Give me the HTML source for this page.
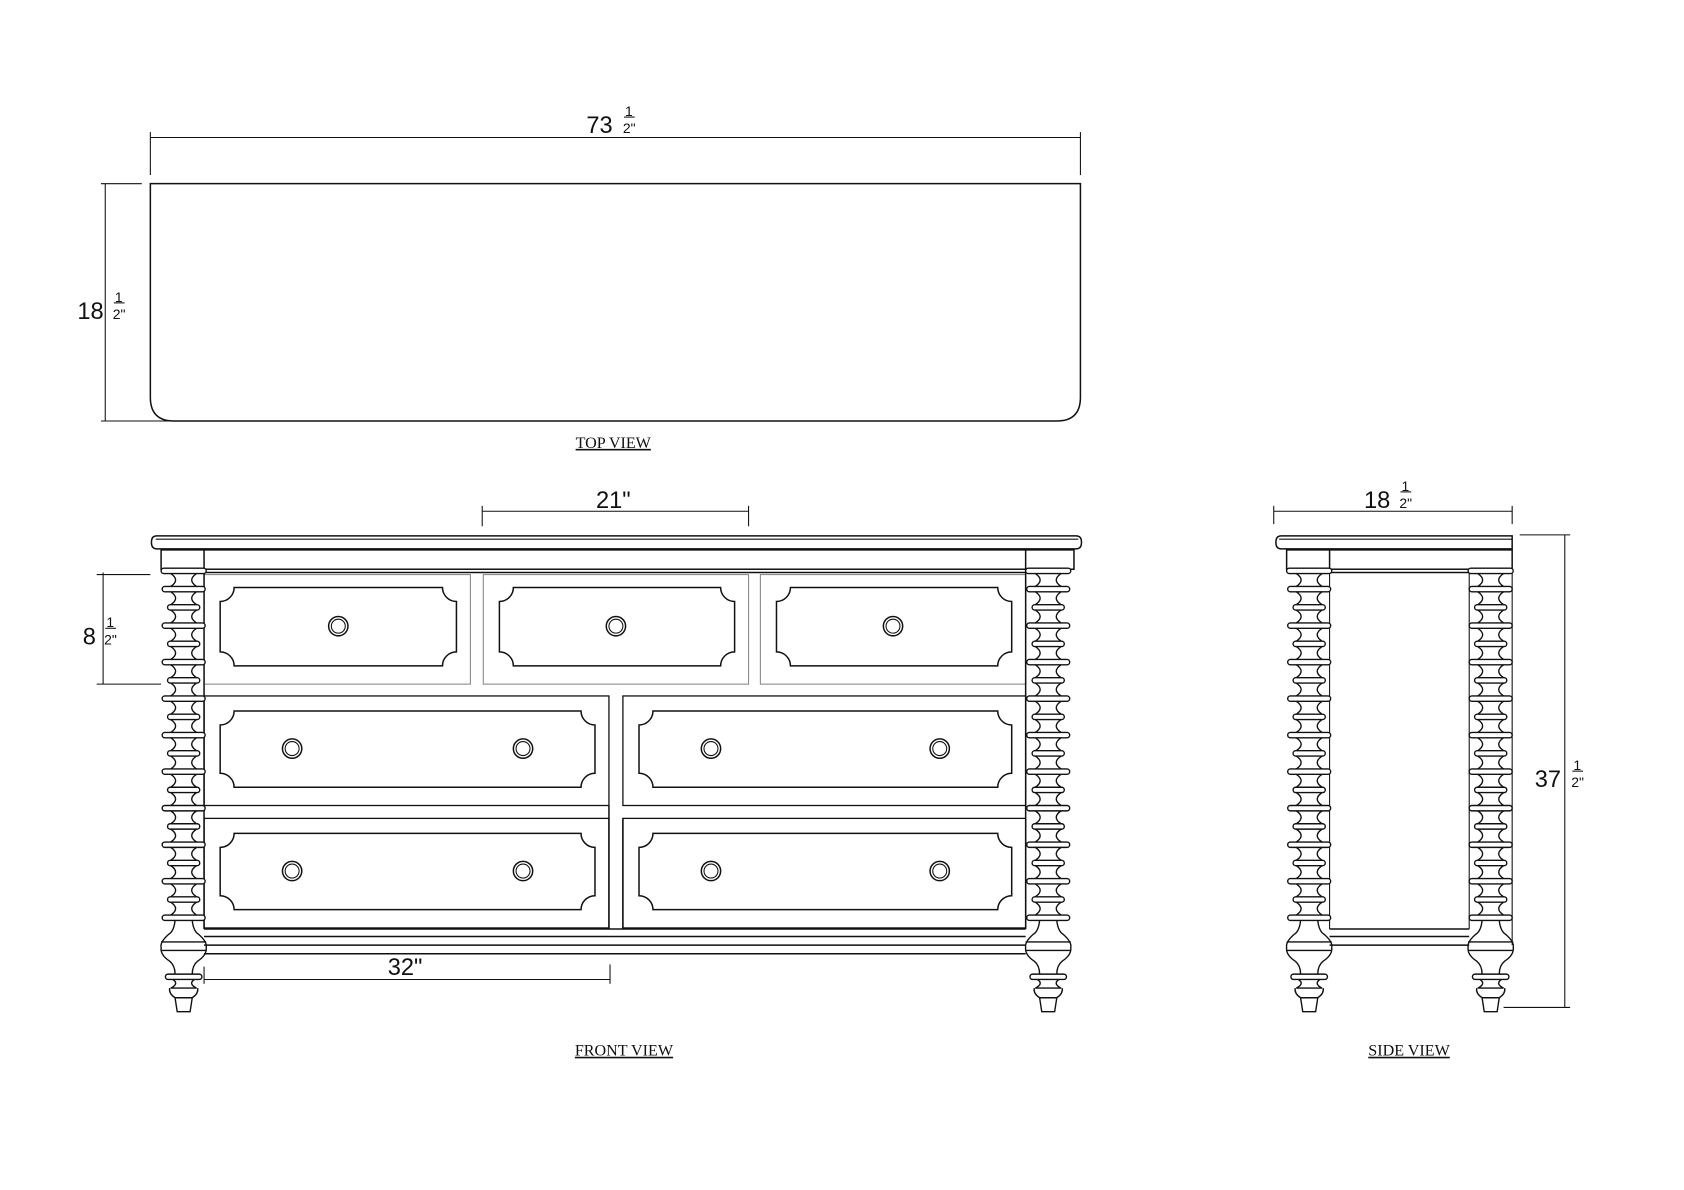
<!DOCTYPE html>
<html><head><meta charset="utf-8"><style>
html,body{margin:0;padding:0;background:#fff;}
svg{display:block;}
text{font-family:"Liberation Sans",sans-serif;fill:#111;}
.lab{font-family:"Liberation Serif",serif;font-size:15px;text-decoration:underline;}
</style></head><body>
<svg id="s" width="1684" height="1190" viewBox="0 0 1568 1108" xmlns="http://www.w3.org/2000/svg" fill="none" stroke="#111" stroke-width="1.4">
<!-- TOP VIEW -->
<path d="M140 171 H1006 V370 Q1006 392 984 392 H162 Q140 392 140 370 Z"/>
<line x1="140" y1="128" x2="1006" y2="128" stroke-width="1"/>
<line x1="140" y1="123" x2="140" y2="163" stroke-width="1"/>
<line x1="1006" y1="123" x2="1006" y2="163" stroke-width="1"/>
<line x1="98" y1="171" x2="98" y2="392" stroke-width="1"/>
<line x1="94" y1="171" x2="132" y2="171" stroke-width="1"/>
<line x1="94" y1="392" x2="160" y2="392" stroke-width="1"/>
<g stroke="none">
<text x="546" y="124" font-size="22">73</text><text x="582" y="108" font-size="13">1</text><text x="580" y="124" font-size="13">2"</text>
<text x="72" y="297" font-size="22">18</text><text x="107" y="281" font-size="13">1</text><text x="105" y="297" font-size="13">2"</text>
<text class="lab" x="571" y="417" text-anchor="middle">TOP VIEW</text>
<text class="lab" x="581" y="983" text-anchor="middle">FRONT VIEW</text>
<text class="lab" x="1312" y="983" text-anchor="middle">SIDE VIEW</text>
<text x="555" y="473" font-size="22">21"</text>
<text x="1270" y="473" font-size="22">18</text><text x="1305" y="457" font-size="13">1</text><text x="1303" y="473" font-size="13">2"</text>
<text x="77" y="600" font-size="22">8</text><text x="99" y="584" font-size="13">1</text><text x="97" y="600" font-size="13">2"</text>
<text x="361" y="908" font-size="22">32"</text>
<text x="1429" y="733" font-size="22">37</text><text x="1465" y="717" font-size="13">1</text><text x="1463" y="733" font-size="13">2"</text>
</g>
<g stroke-width="1">
<line x1="106" y1="282" x2="116" y2="282"/><line x1="581" y1="109" x2="591" y2="109"/>
<line x1="1304" y1="458" x2="1314" y2="458"/><line x1="98" y1="585" x2="108" y2="585"/><line x1="1464" y1="718" x2="1474" y2="718"/>
<line x1="449" y1="476" x2="697" y2="476"/><line x1="449" y1="471" x2="449" y2="490"/><line x1="697" y1="471" x2="697" y2="490"/>
<line x1="96" y1="533" x2="96" y2="637"/><line x1="90" y1="535" x2="140" y2="535"/><line x1="90" y1="637" x2="150" y2="637"/>
<line x1="190" y1="912" x2="568" y2="912"/><line x1="190" y1="900" x2="190" y2="916"/><line x1="568" y1="898" x2="568" y2="916"/>
<line x1="1186" y1="476" x2="1408" y2="476"/><line x1="1186" y1="471" x2="1186" y2="488"/><line x1="1408" y1="471" x2="1408" y2="488"/>
<line x1="1457" y1="498" x2="1457" y2="938"/><line x1="1415" y1="498" x2="1462" y2="498"/><line x1="1400" y1="938" x2="1462" y2="938"/>
</g>
<!-- FRONT -->
<path d="M146 499 H1002 Q1007 499 1007 505 Q1007 511 1002 511 H146 Q141 511 141 505 Q141 499 146 499 Z"/>
<line x1="145" y1="502" x2="1004" y2="502" stroke-width="1"/>
<rect x="150" y="512" width="850" height="18"/>
<line x1="190" y1="512" x2="190" y2="530"/><line x1="955" y1="512" x2="955" y2="530"/>
<line x1="190" y1="533" x2="955" y2="533"/>
<g id="drw" stroke-width="1.4"></g>
<line x1="190" y1="530" x2="190" y2="865"/><line x1="955" y1="530" x2="955" y2="865"/>
<line x1="190" y1="865" x2="955" y2="865"/><line x1="190" y1="872" x2="955" y2="872"/><line x1="190" y1="880" x2="955" y2="880"/><line x1="190" y1="888" x2="955" y2="888"/>
<!-- SIDE -->
<path d="M1193 499 H1408 V511 H1193 Q1188 511 1188 505 Q1188 499 1193 499 Z"/>
<line x1="1191" y1="502" x2="1408" y2="502" stroke-width="1"/>
<rect x="1198" y="512" width="210" height="18"/>
<line x1="1238" y1="512" x2="1238" y2="530"/>
<line x1="1238" y1="533" x2="1408" y2="533"/>
<line x1="1238" y1="530" x2="1238" y2="865" stroke-width="1"/><line x1="1368" y1="530" x2="1368" y2="865" stroke-width="1"/>
<line x1="1238" y1="865" x2="1368" y2="865"/><line x1="1238" y1="872" x2="1368" y2="872"/><line x1="1238" y1="880" x2="1368" y2="880"/>
<line x1="1408" y1="530" x2="1408" y2="880" stroke-width="1"/>
<g id="posts" stroke-width="1.3"></g>
</svg>
<script>
var ns="http://www.w3.org/2000/svg";
function add(g,tag,a){var e=document.createElementNS(ns,tag);for(var k in a)e.setAttribute(k,a[k]);g.appendChild(e);return e;}
var D=document.getElementById('drw'),P=document.getElementById('posts');
function panel(x,y,w,h){var r=13;add(D,'path',{d:'M'+(x+r)+' '+y+' H'+(x+w-r)+' A'+r+' '+r+' 0 0 0 '+(x+w)+' '+(y+r)+' V'+(y+h-r)+' A'+r+' '+r+' 0 0 0 '+(x+w-r)+' '+(y+h)+' H'+(x+r)+' A'+r+' '+r+' 0 0 0 '+x+' '+(y+h-r)+' V'+(y+r)+' A'+r+' '+r+' 0 0 0 '+(x+r)+' '+y+' Z'});}
function knob(x,y){add(D,'circle',{cx:x,cy:y,r:9});add(D,'circle',{cx:x,cy:y,r:6.5,'stroke-width':1});}
[[190,438],[450,697],[708,955]].forEach(function(d){add(D,'rect',{x:d[0],y:535,width:d[1]-d[0],height:102,stroke:'#888','stroke-width':1});panel(d[0]+15,547,d[1]-d[0]-28,73);knob((d[0]+d[1])/2-((d[0]==190)?-1:0),583);});
[[648,662,697],[762,776,811]].forEach(function(r){[[190,567],[580,955]].forEach(function(d){add(D,'rect',{x:d[0],y:r[0],width:d[1]-d[0],height:102,'stroke-width':1.2});panel(d[0]+15,r[1],d[1]-d[0]-28,71);knob(d[0]+82,r[2]);knob(d[1]-80,r[2]);});});
add(D,'line',{x1:567,y1:750,x2:567,y2:865});add(D,'line',{x1:580,y1:762,x2:580,y2:865});
function post(cx){
 add(P,'rect',{x:cx-21,y:529,width:42,height:5,rx:2.5,fill:'#fff'});
 var y=534,i=0;
 while(y<846){
  add(P,'path',{d:'M'+(cx-12)+' '+y+' Q'+(cx-3)+' '+(y+6)+' '+(cx-12)+' '+(y+12)+' M'+(cx+12)+' '+y+' Q'+(cx+3)+' '+(y+6)+' '+(cx+12)+' '+(y+12)});
  y+=12;var w=(i%2==0)?40:30;add(P,'rect',{x:cx-w/2,y:y,width:w,height:5,rx:2.5,fill:'#fff'});y+=5;i++;}
 add(P,'path',{d:'M'+(cx-8)+' '+y+' Q'+(cx-9)+' '+(y+10)+' '+(cx-14)+' '+(y+13)+' Q'+(cx-22)+' '+(y+20)+' '+(cx-21)+' '+(y+25)+' Q'+(cx-22)+' '+(y+32)+' '+(cx-13)+' '+(y+38)+' Q'+(cx-8)+' '+(y+42)+' '+(cx-8)+' '+(y+50)+' M'+(cx+8)+' '+y+' Q'+(cx+9)+' '+(y+10)+' '+(cx+14)+' '+(y+13)+' Q'+(cx+22)+' '+(y+20)+' '+(cx+21)+' '+(y+25)+' Q'+(cx+22)+' '+(y+32)+' '+(cx+13)+' '+(y+38)+' Q'+(cx+8)+' '+(y+42)+' '+(cx+8)+' '+(y+50)});
 add(P,'line',{x1:cx-21,y1:y+20,x2:cx+21,y2:y+20});add(P,'line',{x1:cx-21,y1:y+28,x2:cx+21,y2:y+28});
 var b=y+50;add(P,'rect',{x:cx-17,y:b,width:34,height:5,rx:2.5,fill:'#fff'});
 add(P,'path',{d:'M'+(cx-10)+' '+(b+5)+' Q'+(cx-4)+' '+(b+9)+' '+(cx-12)+' '+(b+13)+' H'+(cx+12)+' Q'+(cx+4)+' '+(b+9)+' '+(cx+10)+' '+(b+5)});
 add(P,'path',{d:'M'+(cx-13)+' '+(b+13)+' Q'+(cx-14)+' '+(b+18)+' '+(cx-8)+' '+(b+22)+' L'+(cx-6)+' '+(b+35)+' H'+(cx+6)+' L'+(cx+8)+' '+(b+22)+' Q'+(cx+14)+' '+(b+18)+' '+(cx+13)+' '+(b+13)});
 add(P,'line',{x1:cx-8,y1:b+22,x2:cx+8,y2:b+22});
}
post(171);post(976);post(1219);post(1388);
</script>
</body></html>
